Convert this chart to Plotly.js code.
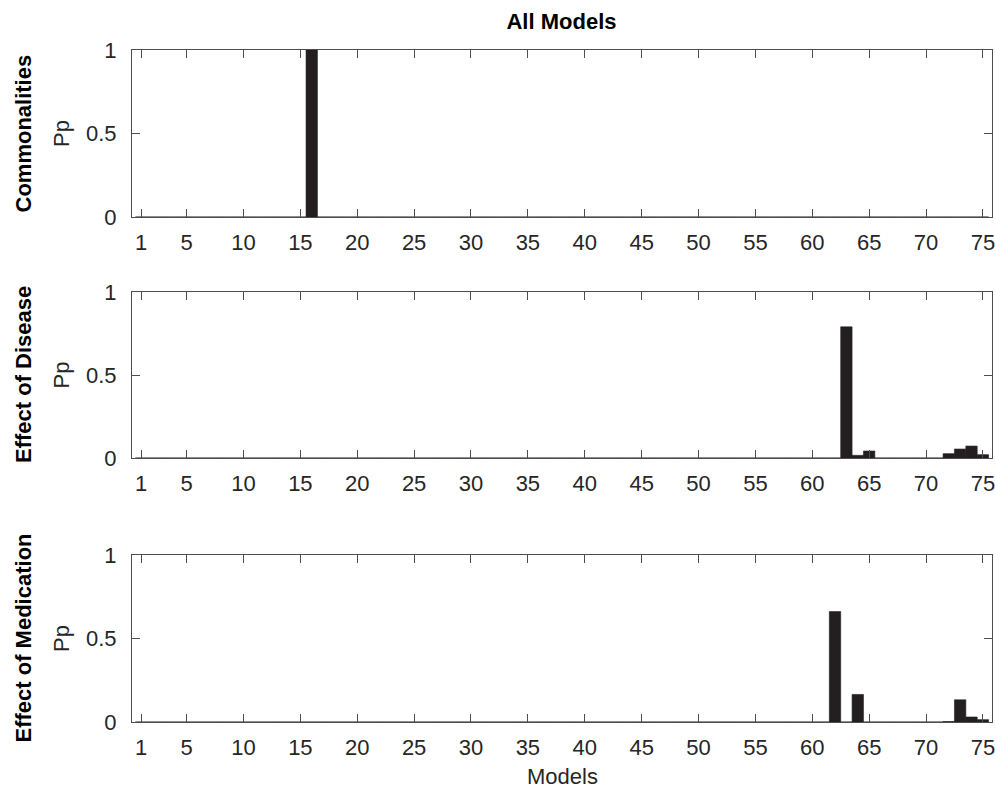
<!DOCTYPE html>
<html>
<head>
<meta charset="utf-8">
<script src="https://cdn.plot.ly/plotly-3.0.1.min.js"></script>
<style>html,body{margin:0;padding:0;background:#fff;}#chart{width:995px;height:788px;}</style>
</head>
<body>
<div id="chart"></div>
<script>
// Model indices 1..75
const models = [1,2,3,4,5,6,7,8,9,10,11,12,13,14,15,16,17,18,19,20,21,22,23,24,25,26,27,28,29,30,31,32,33,34,35,36,37,38,39,40,41,42,43,44,45,46,47,48,49,50,51,52,53,54,55,56,57,58,59,60,61,62,63,64,65,66,67,68,69,70,71,72,73,74,75];
const xTickVals = [1,5,10,15,20,25,30,35,40,45,50,55,60,65,70,75];
const panelLabels = ["Commonalities", "Effect of Disease", "Effect of Medication"];
// Posterior probabilities (Pp) per model
const ppCommonalities = [0,0,0,0,0,0,0,0,0,0, 0,0,0,0,0,1,0,0,0,0, 0,0,0,0,0,0,0,0,0,0, 0,0,0,0,0,0,0,0,0,0, 0,0,0,0,0,0,0,0,0,0, 0,0,0,0,0,0,0,0,0,0, 0,0,0,0,0,0,0,0,0,0, 0,0,0,0,0];
const ppDisease = [0,0,0,0,0,0,0,0,0,0, 0,0,0,0,0,0,0,0,0,0, 0,0,0,0,0,0,0,0,0,0, 0,0,0,0,0,0,0,0,0,0, 0,0,0,0,0,0,0,0,0,0, 0,0,0,0,0,0,0,0,0,0, 0,0,0.79,0.016,0.042,0,0,0,0,0, 0,0.026,0.054,0.072,0.02];
const ppMedication = [0,0,0,0,0,0,0,0,0,0, 0,0,0,0,0,0,0,0,0,0, 0,0,0,0,0,0,0,0,0,0, 0,0,0,0,0,0,0,0,0,0, 0,0,0,0,0,0,0,0,0,0, 0,0,0,0,0,0,0,0,0,0, 0,0.661,0,0.165,0,0,0,0,0,0, 0,0.003,0.133,0.03,0.014];

const series = [ppCommonalities, ppDisease, ppMedication];
const axisColor = '#4d4d4d';
const textColor = '#262626';
const fontFam = '"Liberation Sans", Arial, sans-serif';
const FS = 22;

const traces = series.map((s, i) => ({
  type: 'bar', x: models, y: s,
  xaxis: i === 0 ? 'x' : 'x' + (i + 1),
  yaxis: i === 0 ? 'y' : 'y' + (i + 1),
  width: 1,
  marker: {color: '#231f20', line: {color: '#231f20', width: 0.6}},
  showlegend: false, hoverinfo: 'x+y'
}));

const W = 995, H = 788;
const L = 132, R = 992;
const panels = [[50, 217], [292, 458], [555, 722]];

function xa() {
  return {
    range: [0.2, 75.8], tickmode: 'array', tickvals: xTickVals,
    ticks: 'inside', ticklen: 8, tickwidth: 1, tickcolor: axisColor,
    showline: true, linecolor: axisColor, linewidth: 1, mirror: 'ticks',
    showgrid: false, zeroline: false,
    tickfont: {family: fontFam, size: FS, color: textColor},
    ticklabelstandoff: 6, ticklabeloverflow: 'allow', automargin: false
  };
}
function ya() {
  return {
    range: [0, 1], tickmode: 'array', tickvals: [0, 0.5, 1], ticktext: ['0', '0.5', '1'],
    ticks: 'inside', ticklen: 8, tickwidth: 1, tickcolor: axisColor,
    showline: true, linecolor: axisColor, linewidth: 1, mirror: 'ticks',
    showgrid: false, zeroline: false,
    tickfont: {family: fontFam, size: FS, color: textColor},
    ticklabelstandoff: 10, automargin: false,
    title: {text: 'Pp', font: {family: fontFam, size: FS, color: textColor}, standoff: 10}
  };
}

const layout = {
  width: W, height: H,
  margin: {l: 0, r: 0, t: 0, b: 0},
  paper_bgcolor: '#fff', plot_bgcolor: '#fff',
  font: {family: fontFam, color: textColor},
  bargap: 0,
  title: {text: '<b>All Models</b>', font: {family: fontFam, size: FS, color: '#000'}, x: 561.5 / W, xanchor: 'center', y: 1 - 21 / H, yanchor: 'middle'},
  annotations: [{
    text: 'Models', xref: 'paper', yref: 'paper', x: (L + R) / 2 / W, y: 1 - 776 / H,
    xanchor: 'center', yanchor: 'middle', showarrow: false,
    font: {family: fontFam, size: FS, color: textColor}
  }],
  showlegend: false
};
panels.forEach((p, i) => {
  const sfx = i === 0 ? '' : String(i + 1);
  const xk = 'xaxis' + sfx, yk = 'yaxis' + sfx;
  layout[xk] = xa();
  layout[xk].domain = [L / W, R / W];
  layout[xk].anchor = 'y' + sfx;
  layout[yk] = ya();
  layout[yk].domain = [1 - p[1] / H, 1 - p[0] / H];
  layout[yk].anchor = 'x' + sfx;
  layout.annotations.push({
    text: '<b>' + panelLabels[i] + '</b>', textangle: -90,
    xref: 'paper', yref: 'paper', x: 23 / W, y: 1 - (p[0] + p[1]) / 2 / H,
    xanchor: 'center', yanchor: 'middle', showarrow: false,
    font: {family: fontFam, size: FS, color: '#000'}
  });
});

Plotly.newPlot('chart', traces, layout, {displayModeBar: false, staticPlot: true});
</script>
</body>
</html>
